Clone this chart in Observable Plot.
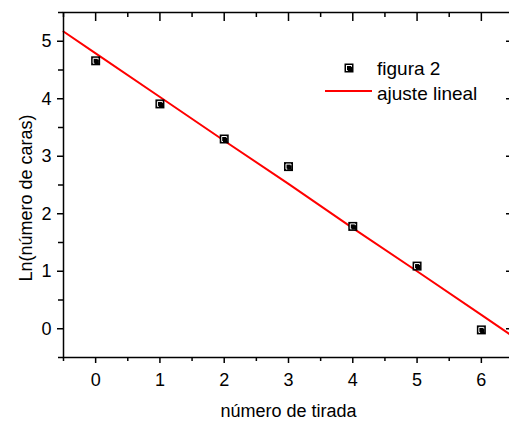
<!DOCTYPE html>
<html>
<head>
<meta charset="utf-8">
<script src="https://cdn.jsdelivr.net/npm/d3@7"></script>
<script src="https://cdn.jsdelivr.net/npm/@observablehq/plot@0.6"></script>
<style>
  html, body { margin: 0; padding: 0; background: #fff; overflow: hidden; }
  #chart { width: 509px; height: 423px; }
</style>
</head>
<body>
<div id="chart"></div>
<script>
// ---- data ----
const tirada = [0, 1, 2, 3, 4, 5, 6];
const lnCaras = [4.66, 3.91, 3.30, 2.82, 1.78, 1.09, -0.02];
const ajusteX = [-0.5, 0, 1, 2, 3, 4, 5, 6, 6.5];
const ajusteY = [5.17, 4.79, 4.03, 3.27, 2.52, 1.75, 1.00, 0.24, -0.14];
const xMajor = [0, 1, 2, 3, 4, 5, 6];
const xMinor = [-0.5, 0.5, 1.5, 2.5, 3.5, 4.5, 5.5, 6.5];
const yMajor = [0, 1, 2, 3, 4, 5];
const yMinor = [-0.5, 0.5, 1.5, 2.5, 3.5, 4.5, 5.5];
const xLabel = "número de tirada";
const yLabel = "Ln(número de caras)";
const legendLabels = ["figura 2", "ajuste lineal"];

const points = tirada.map((x, i) => ({x, y: lnCaras[i]}));
const fit = ajusteX.map((x, i) => ({x, y: ajusteY[i]}));

const FONT = "'Liberation Sans', Arial, Helvetica, sans-serif";
const side = s => s / Math.sqrt(Math.PI); // r for a square of side s
const blank = () => "";

const chart = Plot.plot({
  width: 509,
  height: 423,
  marginLeft: 63,
  marginRight: -4,
  marginTop: 12,
  marginBottom: 66,
  x: {domain: [-0.5, 6.5], label: null},
  y: {domain: [-0.5, 5.5], label: null},
  style: {fontFamily: FONT, background: "white", maxWidth: "none", color: "black"},
  marks: [
    Plot.line(fit, {x: "x", y: "y", stroke: "#ff0000", strokeWidth: 2}),
    Plot.dot(points, {x: "x", y: "y", symbol: "square", r: side(9), fill: "black"}),
    Plot.dot(points, {x: "x", y: "y", symbol: "square", r: side(5), fill: "none", stroke: "white", strokeWidth: 1}),
    Plot.dot(points, {x: "x", y: "y", symbol: "square", r: side(4.5), fill: "black", dx: 1, dy: 1}),
    // bottom axis
    Plot.axisX(xMajor, {anchor: "bottom", tickSize: 6, tickPadding: 10, fontSize: 18, strokeWidth: 1.5, label: null, tickFormat: d => String(d)}),
    Plot.axisX(xMinor, {anchor: "bottom", tickSize: 4, strokeWidth: 1.5, label: null, tickFormat: blank}),
    // top axis (inward)
    Plot.axisX(xMajor, {anchor: "top", tickSize: -8, strokeWidth: 1.5, label: null, tickFormat: blank}),
    Plot.axisX(xMinor, {anchor: "top", tickSize: -4, strokeWidth: 1.5, label: null, tickFormat: blank}),
    // left axis
    Plot.axisY(yMajor, {anchor: "left", tickSize: 6, tickPadding: 6, fontSize: 18, strokeWidth: 1.5, label: null, tickFormat: d => String(d)}),
    Plot.axisY(yMinor, {anchor: "left", tickSize: 5, strokeWidth: 1.5, label: null, tickFormat: blank}),
    // right axis (inward)
    Plot.axisY(yMajor, {anchor: "right", tickSize: -8, strokeWidth: 1.5, label: null, tickFormat: blank}),
    Plot.axisY(yMinor, {anchor: "right", tickSize: -4, strokeWidth: 1.5, label: null, tickFormat: blank}),
    Plot.frame({stroke: "black", strokeWidth: 1.5}),
    Plot.text([xLabel], {frameAnchor: "bottom", textAnchor: "middle", dy: 54, fontSize: 18, lineAnchor: "middle", fill: "black"}),
    Plot.text([yLabel], {frameAnchor: "left", textAnchor: "middle", rotate: -90, dx: -37, dy: 13, fontSize: 18, lineAnchor: "middle", fill: "black"})
  ]
});
document.getElementById("chart").appendChild(chart);

// ---- legend ----
const svg = d3.select(chart);
const lg = svg.append("g").attr("font-family", FONT).attr("font-size", 19).attr("fill", "black").attr("text-anchor", "start");
const mk = lg.append("g").attr("transform", "translate(349,68)");
mk.append("rect").attr("x", -4.5).attr("y", -4.5).attr("width", 9).attr("height", 9).attr("fill", "black");
mk.append("rect").attr("x", -2.5).attr("y", -2.5).attr("width", 5).attr("height", 5).attr("fill", "none").attr("stroke", "white").attr("stroke-width", 1);
mk.append("rect").attr("x", -1.25).attr("y", -1.25).attr("width", 4.5).attr("height", 4.5).attr("fill", "black");
lg.append("text").attr("x", 377).attr("y", 74.5).attr("text-anchor", "start").text(legendLabels[0]);
lg.append("line").attr("x1", 325).attr("x2", 372).attr("y1", 91).attr("y2", 91).attr("stroke", "#ff0000").attr("stroke-width", 2);
lg.append("text").attr("x", 377).attr("y", 99.5).attr("text-anchor", "start").text(legendLabels[1]);
</script>
</body>
</html>
